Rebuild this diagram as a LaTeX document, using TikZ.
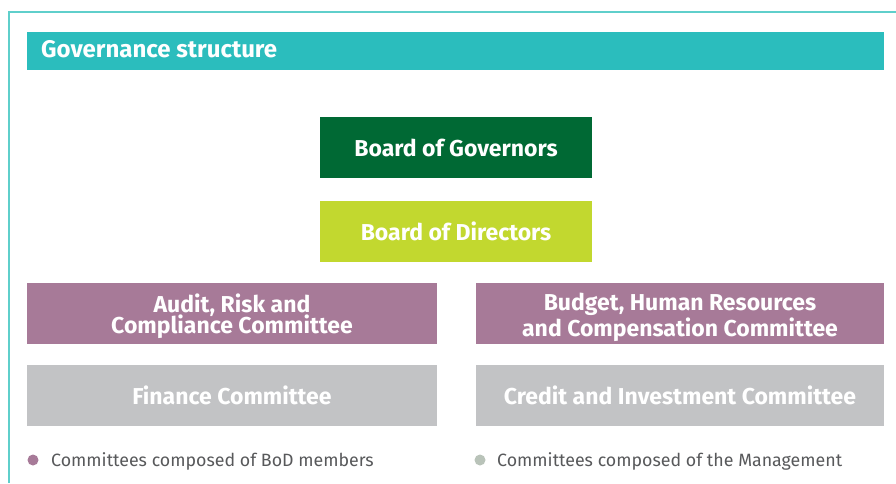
\documentclass[tikz,border=0pt]{standalone}
\usepackage{fontspec}
\setmainfont{Fira Sans}
\definecolor{teal1}{HTML}{2BBDBD}
\definecolor{tealline}{HTML}{5FCFCB}
\definecolor{dkgreen}{HTML}{006934}
\definecolor{lime}{HTML}{C2D82F}
\definecolor{mauve}{HTML}{A77A98}
\definecolor{grey1}{HTML}{C2C3C5}
\definecolor{legtxt}{HTML}{58595B}
\definecolor{dotgrey}{HTML}{B9C3B9}
\begin{document}
\begin{tikzpicture}[x=1pt,y=-1pt,
  box/.style={draw=none,inner sep=0pt,text=white,align=center,
    font=\fontsize{23}{23}\selectfont\bfseries},
  legend/.style={anchor=base west,inner sep=0pt,text=legtxt,font=\fontsize{17.8}{20}\selectfont}]
\useasboundingbox (0,0) rectangle (896,483);
\fill[white] (0,0) rectangle (896,483);
\draw[tealline,line width=1.5pt] (9,483) -- (9,12) -- (896,12);
\fill[teal1] (27,32) rectangle (884,70);
\node[anchor=base west,inner sep=0pt,text=white,font=\fontsize{24}{26}\selectfont\bfseries] (title) at (41,57) {Governance structure};
\node[box,fill=dkgreen,minimum width=272pt,minimum height=61pt] (bog) at (456,147.5) {Board of Governors};
\node[box,fill=lime,minimum width=272pt,minimum height=61pt] (bod) at (456,231.5) {Board of Directors};
\node[box,fill=mauve,minimum width=410pt,minimum height=61pt] (arc) at (232,313.5) {};
\node[box,font=\fontsize{23}{25}\selectfont\bfseries] (arct) at (232,316) {Audit, Risk and\\[-4pt]Compliance Committee};
\node[box,fill=mauve,minimum width=408pt,minimum height=61pt] (bhr) at (680,313.5) {};
\node[box,font=\fontsize{23}{26}\selectfont\bfseries] (bhrt) at (680,317) {Budget, Human Resources\\and Compensation Committee};
\node[box,fill=grey1,minimum width=410pt,minimum height=61pt] (fin) at (232,395.5) {Finance Committee};
\node[box,fill=grey1,minimum width=408pt,minimum height=61pt] (cic) at (680,395.5) {Credit and Investment Committee};
\fill[mauve] (33,460) circle (5.5pt);
\node[legend] (l1) at (51,466) {Committees composed of BoD members};
\fill[dotgrey] (480,460) circle (5.5pt);
\node[legend] (l2) at (497,466) {Committees composed of the Management};
\end{tikzpicture}
\end{document}
